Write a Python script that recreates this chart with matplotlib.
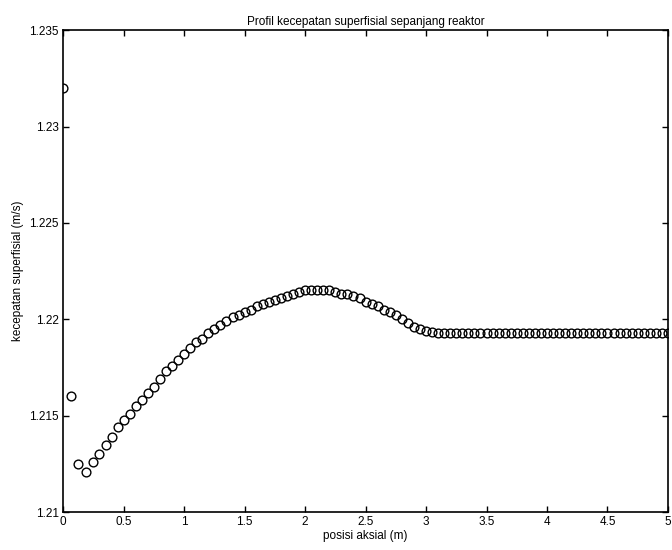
import numpy as np
import matplotlib
matplotlib.use("Agg")
import matplotlib.pyplot as plt
from matplotlib.ticker import FuncFormatter

plt.rcParams["font.family"] = ["Liberation Sans", "DejaVu Sans"]

# axial position (m): a few wide solver steps at the inlet, then 0.05 m steps
posisi_awal = [0.0, 0.0625, 0.125, 0.1875]
posisi = np.concatenate([posisi_awal, np.linspace(0.25, 5.0, 96)])

# superficial velocity (m/s)
kecepatan_awal = [1.2320, 1.2160, 1.2125, 1.2121]
kecepatan_naik = [
    1.2126, 1.2130, 1.2135, 1.2139, 1.2144, 1.2148, 1.2151, 1.2155,
    1.2158, 1.2162, 1.2165, 1.2169, 1.2173, 1.2176, 1.2179, 1.2182,
    1.2185, 1.2188, 1.2190, 1.2193, 1.2195, 1.2197, 1.2199, 1.2201,
    1.2202, 1.2204, 1.2205, 1.2207, 1.2208, 1.2209, 1.2210, 1.2211,
    1.2212, 1.2213, 1.2214, 1.2215, 1.2215, 1.2215, 1.2215, 1.2215,
    1.2214, 1.2213, 1.2213, 1.2212, 1.2211, 1.2209, 1.2208, 1.2207,
    1.2205, 1.2204, 1.2202, 1.2200, 1.2198, 1.2196, 1.2195, 1.2194,
    1.21935,
]
kecepatan_datar = [
    1.2193, 1.2193, 1.2193, 1.2193, 1.2193, 1.2193, 1.2193, 1.2193,
    1.2193, 1.2193, 1.2193, 1.2193, 1.2193, 1.2193, 1.2193, 1.2193,
    1.2193, 1.2193, 1.2193, 1.2193, 1.2193, 1.2193, 1.2193, 1.2193,
    1.2193, 1.2193, 1.2193, 1.2193, 1.2193, 1.2193, 1.2193, 1.2193,
    1.2193, 1.2193, 1.2193, 1.2193, 1.2193, 1.2193, 1.2193,
]
kecepatan = kecepatan_awal + kecepatan_naik + kecepatan_datar

x_ticks = [0, 0.5, 1, 1.5, 2, 2.5, 3, 3.5, 4, 4.5, 5]
y_ticks = [1.21, 1.215, 1.22, 1.225, 1.23, 1.235]

fig = plt.figure(figsize=(6.72, 5.5), dpi=100)
ax = fig.add_axes([0.094, 0.069, 0.900, 0.876])

ax.plot(posisi, kecepatan, linestyle="none", marker="o", markersize=6.3,
        markerfacecolor="none", markeredgecolor="black", markeredgewidth=1.0)

ax.set_xlim(0, 5)
ax.set_ylim(1.21, 1.235)
ax.set_xticks(x_ticks)
ax.set_yticks(y_ticks)
ax.xaxis.set_major_formatter(FuncFormatter(lambda v, p: f"{v:g}"))
ax.yaxis.set_major_formatter(FuncFormatter(lambda v, p: f"{v:g}"))
ax.tick_params(direction="in", top=True, right=True, length=4, width=1,
               labelsize=8.5, colors="black", pad=3)
for side in ax.spines.values():
    side.set_linewidth(1.2)
    side.set_color("black")

ax.set_title("Profil kecepatan superfisial sepanjang reaktor", fontsize=8.5, pad=4)
ax.set_xlabel("posisi aksial (m)", fontsize=8.5, labelpad=1)
ax.set_ylabel("kecepatan superfisial (m/s)", fontsize=8.5, labelpad=4)

fig.savefig("out.png", dpi=100)
